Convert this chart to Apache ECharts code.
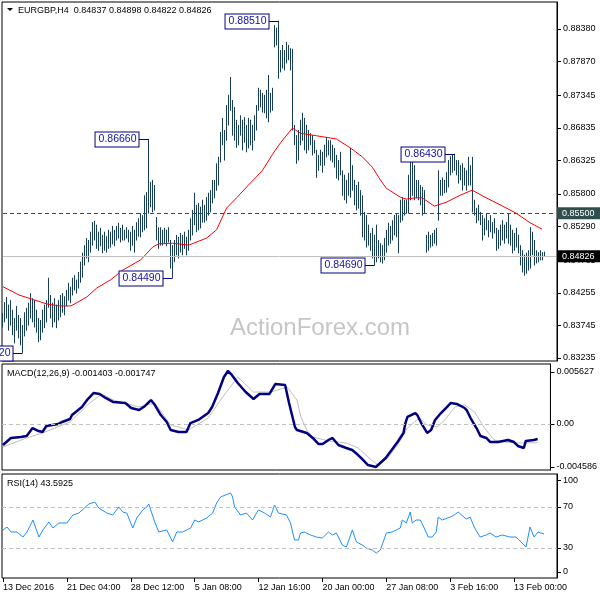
<!DOCTYPE html>
<html><head><meta charset="utf-8">
<script src="https://cdn.jsdelivr.net/npm/echarts@6/dist/echarts.min.js"></script>
<style>html,body{margin:0;padding:0;background:#fff}#c{width:600px;height:600px}</style>
</head><body><div id="c"></div>
<script>
const titleText = 'EURGBP,H4  0.84837 0.84898 0.84822 0.84826';
const macdTitle = 'MACD(12,26,9) -0.001403 -0.001747';
const rsiTitle = 'RSI(14) 43.5925';
const watermark = 'ActionForex.com';
const tickLabels = ['13 Dec 2016','21 Dec 04:00','28 Dec 12:00','5 Jan 08:00','12 Jan 16:00','20 Jan 00:00','27 Jan 08:00','3 Feb 16:00','13 Feb 00:00'];
const priceTicks = [0.83235,0.83745,0.84255,0.84765,0.85290,0.85800,0.86325,0.86835,0.87345,0.87870,0.88380];
const macdTickPos = [0.004877, 0, -0.004033];
const macdTickText = ['0.005627','0.00','-0.004586'];
const rsiTickPos = [6.6, 30, 70, 96];
const rsiTickText = ['0','30','70','100'];
const levelPrice = 0.855;
const lastPrice = 0.84826;
const rsiLevels = [30, 70];
const peaks = [[138,0.8851],[73,0.8666],[226,0.8643],[85,0.8449],[186,0.8469],[10,0.8332]];

const highs = [
0.8394,0.8411,0.8419,0.8407,0.8414,0.8399,0.8386,0.8405,0.8391,0.8386,
0.8375,0.8395,0.8402,0.8410,0.8425,0.8417,0.8414,0.8399,0.8386,0.8383,
0.8399,0.8407,0.8414,0.8449,0.8422,0.8410,0.8417,0.8407,0.8414,0.8422,
0.8425,0.8420,0.8430,0.8441,0.8435,0.8449,0.8453,0.8446,0.8458,0.8474,
0.8488,0.8500,0.8511,0.8508,0.8521,0.8536,0.8538,0.8532,0.8521,0.8527,
0.8516,0.8521,0.8514,0.8524,0.8521,0.8530,0.8524,0.8530,0.8535,0.8527,
0.8532,0.8524,0.8528,0.8524,0.8521,0.8530,0.8524,0.8536,0.8542,0.8550,
0.8547,0.8578,0.8583,0.8666,0.8599,0.8602,0.8594,0.8544,0.8528,0.8528,
0.8524,0.8527,0.8524,0.8528,0.8508,0.8500,0.8508,0.8516,0.8513,0.8519,
0.8516,0.8521,0.8513,0.8524,0.8542,0.8555,0.8582,0.8563,0.8566,0.8560,
0.8571,0.8563,0.8575,0.8582,0.8586,0.8602,0.8602,0.8628,0.8638,0.8677,
0.8699,0.8680,0.8719,0.8735,0.8763,0.8727,0.8716,0.8696,0.8688,0.8703,
0.8696,0.8700,0.8688,0.8699,0.8696,0.8688,0.8703,0.8719,0.8746,0.8743,
0.8738,0.8735,0.8743,0.8766,0.8738,0.8746,0.8844,0.8840,0.8851,0.8805,
0.8813,0.8805,0.8818,0.8813,0.8808,0.8807,0.8688,0.8672,0.8680,0.8696,
0.8707,0.8699,0.8688,0.8680,0.8675,0.8672,0.8664,0.8649,0.8641,0.8649,
0.8646,0.8657,0.8669,0.8664,0.8664,0.8657,0.8652,0.8641,0.8633,0.8646,
0.8617,0.8610,0.8602,0.8613,0.8652,0.8625,0.8602,0.8594,0.8599,0.8586,
0.8578,0.8552,0.8547,0.8532,0.8519,0.8527,0.8516,0.8532,0.8508,0.8503,
0.8500,0.8511,0.8524,0.8535,0.8530,0.8539,0.8547,0.8550,0.8547,0.8571,
0.8575,0.8571,0.8571,0.8610,0.8632,0.8633,0.8625,0.8602,0.8602,0.8594,
0.8591,0.8586,0.8516,0.8521,0.8516,0.8519,0.8524,0.8527,0.8617,0.8602,
0.8606,0.8602,0.8614,0.8633,0.8639,0.8641,0.8643,0.8633,0.8633,0.8625,
0.8628,0.8621,0.8617,0.8638,0.8625,0.8638,0.8571,0.8558,0.8563,0.8552,
0.8547,0.8542,0.8550,0.8539,0.8547,0.8536,0.8542,0.8527,0.8524,0.8532,
0.8539,0.8532,0.8536,0.8550,0.8532,0.8524,0.8519,0.8527,0.8516,0.8500,
0.8492,0.8485,0.8488,0.8492,0.8528,0.8521,0.8508,0.8492,0.8489,0.8492,
0.8489,0.84898];
const lows = [
0.8372,0.8380,0.8386,0.8367,0.8375,0.8360,0.8347,0.8367,0.8355,0.8344,
0.8332,0.8358,0.8367,0.8375,0.8386,0.8380,0.8372,0.8364,0.8349,0.8352,
0.8364,0.8371,0.8380,0.8403,0.8386,0.8372,0.8380,0.8371,0.8383,0.8388,
0.8395,0.8391,0.8405,0.8414,0.8410,0.8422,0.8430,0.8425,0.8433,0.8442,
0.8450,0.8469,0.8480,0.8474,0.8489,0.8500,0.8508,0.8495,0.8492,0.8499,
0.8488,0.8492,0.8489,0.8495,0.8497,0.8502,0.8499,0.8508,0.8511,0.8505,
0.8508,0.8508,0.8511,0.8505,0.8492,0.8500,0.8489,0.8508,0.8514,0.8513,
0.8521,0.8524,0.8527,0.8550,0.8560,0.8552,0.8555,0.8508,0.8495,0.8500,
0.8500,0.8503,0.8499,0.8505,0.8464,0.8449,0.8474,0.8485,0.8480,0.8489,
0.8485,0.8495,0.8485,0.8492,0.8508,0.8516,0.8532,0.8521,0.8524,0.8527,
0.8536,0.8536,0.8539,0.8547,0.8552,0.8566,0.8574,0.8586,0.8594,0.8630,
0.8657,0.8633,0.8664,0.8688,0.8711,0.8672,0.8664,0.8653,0.8657,0.8672,
0.8649,0.8661,0.8646,0.8652,0.8657,0.8649,0.8664,0.8680,0.8711,0.8716,
0.8708,0.8707,0.8699,0.8693,0.8708,0.8711,0.8810,0.8813,0.8761,0.8771,
0.8777,0.8774,0.8785,0.8790,0.8774,0.8680,0.8657,0.8628,0.8633,0.8657,
0.8664,0.8649,0.8644,0.8649,0.8657,0.8641,0.8644,0.8606,0.8617,0.8625,
0.8614,0.8625,0.8638,0.8641,0.8633,0.8630,0.8622,0.8605,0.8602,0.8610,
0.8578,0.8571,0.8566,0.8578,0.8575,0.8586,0.8563,0.8555,0.8558,0.8547,
0.8513,0.8508,0.8497,0.8500,0.8492,0.8480,0.8469,0.8474,0.8480,0.8474,
0.8472,0.8477,0.8489,0.8500,0.8503,0.8508,0.8516,0.8513,0.8488,0.8536,
0.8539,0.8547,0.8550,0.8550,0.8571,0.8578,0.8571,0.8574,0.8571,0.8563,
0.8547,0.8550,0.8489,0.8492,0.8497,0.8499,0.8503,0.8500,0.8539,0.8578,
0.8578,0.8582,0.8583,0.8591,0.8610,0.8614,0.8617,0.8610,0.8597,0.8602,
0.8586,0.8594,0.8586,0.8594,0.8594,0.8552,0.8547,0.8535,0.8539,0.8532,
0.8508,0.8516,0.8524,0.8513,0.8521,0.8511,0.8519,0.8492,0.8495,0.8500,
0.8508,0.8503,0.8511,0.8503,0.8500,0.8488,0.8492,0.8497,0.8488,0.8469,
0.8458,0.8453,0.8456,0.8461,0.8464,0.8485,0.8469,0.8472,0.8474,0.8477,
0.8477,0.84822];

const maPoints = [[0,0.8435],[8,0.8422],[14,0.8416],[22,0.8408],[28,0.8405],[34,0.8405],[37,0.8410],[42,0.8419],[47,0.8433],[54,0.8446],[60,0.8461],[69,0.8477],[75,0.8497],[78,0.8502],[85,0.8503],[93,0.8500],[102,0.8511],[107,0.8524],[112,0.8558],[117,0.8574],[123,0.8594],[130,0.8617],[135,0.8642],[139,0.8660],[145,0.8683],[149,0.8675],[157,0.8671],[167,0.8666],[174,0.8652],[180,0.8638],[185,0.8622],[189,0.8602],[192,0.8589],[199,0.8575],[202,0.8572],[207,0.8574],[210,0.8574],[216,0.8561],[222,0.8567],[229,0.8578],[235,0.8586],[242,0.8574],[249,0.8563],[257,0.8550],[264,0.8535],[270,0.8525]];

const macdMain = [[0,-0.00197],[4,-0.00131],[9,-0.00122],[12,-0.00113],[15,-0.00038],[18,-0.00066],[20,-0.00075],[22,-0.00019],[28,0.0],[30,0.00019],[34,0.00047],[35,0.00084],[40,0.00159],[43,0.00234],[46,0.00291],[49,0.00281],[52,0.00244],[56,0.00206],[62,0.00197],[65,0.00150],[69,0.00131],[72,0.00169],[75,0.00225],[77,0.00178],[80,0.00084],[83,0.00019],[85,-0.00056],[89,-0.00075],[93,-0.00075],[95,0.00009],[99,0.00038],[104,0.00103],[106,0.00159],[109,0.00291],[112,0.00441],[114,0.00497],[116,0.00460],[119,0.00385],[123,0.00300],[127,0.00234],[130,0.00281],[135,0.00281],[138,0.00375],[143,0.00366],[145,0.00197],[148,-0.00028],[149,-0.00056],[154,-0.00084],[157,-0.00131],[160,-0.00188],[162,-0.00188],[165,-0.00150],[167,-0.00131],[170,-0.00197],[174,-0.00225],[177,-0.00244],[180,-0.00291],[182,-0.00328],[185,-0.00385],[189,-0.00403],[190,-0.00394],[194,-0.00319],[197,-0.00244],[200,-0.00169],[203,-0.00084],[204,0.00009],[205,0.00066],[209,0.00103],[210,0.00084],[212,0.00009],[215,-0.00084],[217,-0.00056],[219,0.00038],[222,0.00103],[225,0.00159],[227,0.00197],[230,0.00188],[234,0.00150],[235,0.00131],[237,0.00056],[240,-0.00038],[242,-0.00113],[245,-0.00131],[247,-0.00169],[251,-0.00169],[256,-0.00150],[259,-0.00169],[261,-0.00206],[264,-0.00225],[265,-0.00159],[269,-0.00150],[271,-0.001403]];

const macdSignal = [[0,-0.00216],[12,-0.00131],[20,-0.00084],[34,0.00019],[44,0.00197],[50,0.00281],[56,0.00225],[69,0.00159],[77,0.00197],[85,-0.00009],[94,-0.00056],[104,0.00056],[111,0.00244],[119,0.00441],[127,0.00300],[136,0.00300],[144,0.00347],[149,0.00225],[151,0.00066],[154,-0.00056],[157,-0.00122],[165,-0.00159],[174,-0.00178],[180,-0.00225],[185,-0.00309],[190,-0.00385],[195,-0.00319],[200,-0.00197],[205,-0.00038],[211,0.00056],[215,-0.00009],[220,-0.00028],[224,0.00038],[229,0.00159],[234,0.00178],[239,0.00113],[244,-0.00038],[249,-0.00150],[254,-0.00169],[261,-0.00178],[271,-0.001747]];

const rsiPoints = [[0,47.6],[2,50.5],[4,45.6],[7,45.6],[10,40.7],[12,45.6],[15,57.3],[18,40.7],[20,47.6],[23,55.4],[25,49.5],[28,54.4],[32,54.4],[35,62.2],[38,64.1],[43,72.9],[46,74.9],[48,69.0],[52,64.1],[55,62.2],[58,70.0],[60,65.1],[62,64.1],[65,49.5],[67,59.3],[70,67.1],[72,70.0],[73,72.9],[76,55.4],[78,45.6],[82,47.6],[85,35.9],[87,45.6],[90,45.6],[94,49.5],[96,57.3],[98,55.4],[102,59.3],[105,64.1],[107,73.9],[109,79.8],[114,83.7],[115,79.8],[116,70.0],[119,62.2],[122,64.1],[125,57.3],[127,64.1],[128,67.1],[131,64.1],[134,60.2],[136,72.0],[138,64.1],[142,62.2],[144,54.4],[146,37.8],[148,37.8],[149,44.6],[151,45.6],[154,42.7],[157,40.7],[160,39.8],[163,45.6],[165,42.7],[167,44.6],[170,32.9],[172,31.0],[175,47.6],[177,35.9],[180,32.9],[182,30.0],[185,28.0],[187,25.1],[189,28.0],[190,26.1],[192,44.6],[195,45.6],[197,47.6],[199,49.5],[200,57.3],[202,54.4],[204,65.1],[205,54.4],[207,57.3],[209,57.3],[211,49.5],[213,40.7],[215,40.7],[217,45.6],[218,60.2],[220,57.3],[224,60.2],[226,62.2],[228,65.1],[232,58.3],[234,60.2],[236,50.5],[239,40.7],[242,42.7],[244,44.6],[247,40.7],[250,42.7],[254,40.7],[257,40.7],[260,34.9],[262,31.0],[264,50.5],[266,40.7],[268,45.6],[271,43.5925]];

const SLOTS = 278;
const cats = Array.from({length: SLOTS}, (_, i) => String(i));
const barData = highs.map((h, i) => [i, h, lows[i]]);
const FONT = "'Liberation Sans', Arial, sans-serif";
const axisFont = {fontFamily: FONT, fontSize: 9, color: '#000'};
const BAR = '#173e59';

const chart = echarts.init(document.getElementById('c'), null, {renderer: 'canvas'});

function gridBox(top, height) {
  return {left: 2, top: top, width: 555, height: height, show: true, borderColor: '#000', borderWidth: 1, backgroundColor: '#fff'};
}
function xAx(g) {
  return {
    type: 'category', gridIndex: g, data: cats, boundaryGap: true,
    axisLine: {show: false},
    axisTick: {show: g === 2, interval: (idx) => idx % 32 === 0, alignWithLabel: true, length: 4, lineStyle: {color: '#000'}},
    axisLabel: {show: g === 2, interval: (idx) => idx % 32 === 0, formatter: (v, idx) => tickLabels[idx / 32] || '', align: 'left', margin: 5, ...axisFont},
    splitLine: {show: false}
  };
}
function yAx(g, min, max, ticks, fmt) {
  return {
    type: 'value', gridIndex: g, position: 'right', min: min, max: max, scale: true,
    axisLine: {show: true, lineStyle: {color: '#000'}},
    axisTick: {show: true, customValues: ticks, length: 4, lineStyle: {color: '#000'}},
    axisLabel: {show: true, customValues: ticks, formatter: fmt, margin: 6, ...axisFont},
    splitLine: {show: false}
  };
}
function hLine(v, color, dash, bg) {
  return {
    name: 'L' + v,
    xAxis: 0, yAxis: v,
    lineStyle: {color: color, type: dash, width: 1},
    label: {show: !!bg, position: 'end', distance: 1, formatter: v.toFixed(5), backgroundColor: bg, color: '#fff', padding: [2, 6, 1, 5], fontFamily: FONT, fontSize: 9}
  };
}

const option = {
  animation: false,
  backgroundColor: '#fff',
  grid: [gridBox(2, 359), gridBox(364, 106), gridBox(474, 104)],
  xAxis: [xAx(0), xAx(1), xAx(2)],
  yAxis: [
    yAx(0, 0.83188, 0.88802, priceTicks, v => v.toFixed(5)),
    yAx(1, -0.004314, 0.005627, macdTickPos, v => { const k = macdTickPos.findIndex(t => Math.abs(t - v) < 1e-7); return k >= 0 ? macdTickText[k] : ''; }),
    yAx(2, 0.73, 102.2, rsiTickPos, v => { const k = rsiTickPos.findIndex(t => Math.abs(t - v) < 1e-6); return k >= 0 ? rsiTickText[k] : ''; })
  ],
  series: [
    {
      type: 'custom', xAxisIndex: 0, yAxisIndex: 0, data: barData, z: 2,
      encode: {x: 0, y: [1, 2]},
      renderItem: function (params, api) {
        const a = api.coord([api.value(0), api.value(1)]);
        const b = api.coord([api.value(0), api.value(2)]);
        const px = Math.floor(a[0]) + 0.5;
        return {type: 'line', shape: {x1: px, y1: a[1], x2: px, y2: b[1] + 0.5}, style: {stroke: BAR, lineWidth: 1}};
      }
    },
    {
      type: 'line', xAxisIndex: 0, yAxisIndex: 0, data: maPoints, showSymbol: false, z: 3,
      lineStyle: {color: '#ff0000', width: 1}, itemStyle: {color: '#ff0000'},
      markLine: {
        silent: true, symbol: 'none', animation: false,
        data: [
          [hLine(levelPrice, '#2f4f4f', [4, 3], '#2f4f4f'), {xAxis: SLOTS - 1, yAxis: levelPrice}],
          [hLine(lastPrice, '#c0c0c0', 'solid', '#000'), {xAxis: SLOTS - 1, yAxis: lastPrice}]
        ]
      }
    },
    {
      type: 'line', xAxisIndex: 1, yAxisIndex: 1, data: [], z: 1,
      markLine: {silent: true, symbol: 'none', label: {show: false}, data: [{yAxis: 0}], lineStyle: {color: '#c0c0c0', type: [4, 3], width: 1}}
    },
    {type: 'line', xAxisIndex: 1, yAxisIndex: 1, data: macdSignal, showSymbol: false, z: 2, lineStyle: {color: '#c0c0c0', width: 1}},
    {type: 'line', xAxisIndex: 1, yAxisIndex: 1, data: macdMain, showSymbol: false, z: 3, lineStyle: {color: '#000080', width: 2.5}},
    {
      type: 'line', xAxisIndex: 2, yAxisIndex: 2, data: [], z: 1,
      markLine: {silent: true, symbol: 'none', label: {show: false}, data: rsiLevels.map(v => ({yAxis: v})), lineStyle: {color: '#c0c0c0', type: [4, 3], width: 1}}
    },
    {type: 'line', xAxisIndex: 2, yAxisIndex: 2, data: rsiPoints, showSymbol: false, z: 2, lineStyle: {color: '#1e90ff', width: 1}}
  ]
};
chart.setOption(option);

const gfx = [
  {type: 'polygon', shape: {points: [[7, 8], [13, 8], [10, 11]]}, style: {fill: '#000'}, z: 60},
  {type: 'text', x: 18, y: 11, style: {text: titleText, font: '9px ' + FONT, fill: '#000', verticalAlign: 'middle'}, z: 60},
  {type: 'text', x: 7, y: 374, style: {text: macdTitle, font: '9px ' + FONT, fill: '#000', verticalAlign: 'middle'}, z: 60},
  {type: 'text', x: 7, y: 484, style: {text: rsiTitle, font: '9px ' + FONT, fill: '#000', verticalAlign: 'middle'}, z: 60},
  {type: 'text', x: 320, y: 328, style: {text: watermark, font: '24px ' + FONT, fill: '#c6c6c6', align: 'center', verticalAlign: 'middle'}, z: 0}
];
peaks.forEach(([i, p]) => {
  const pt = chart.convertToPixel({gridIndex: 0}, [i, p]);
  const bx = Math.floor(pt[0]) + 0.5;
  const by = Math.round(pt[1]) + 0.5;
  gfx.push({type: 'line', shape: {x1: bx - 10, y1: by, x2: bx, y2: by}, style: {stroke: '#000080', lineWidth: 1}, z: 50});
  gfx.push({type: 'text', x: bx - 10, y: by, style: {text: p.toFixed(5), align: 'right', verticalAlign: 'middle', fill: '#1010a0', font: '10.5px ' + FONT, backgroundColor: '#fff', borderColor: '#000080', borderWidth: 1, padding: [2, 2, 1, 3]}, z: 51});
});
chart.setOption({graphic: gfx});
</script></body></html>
